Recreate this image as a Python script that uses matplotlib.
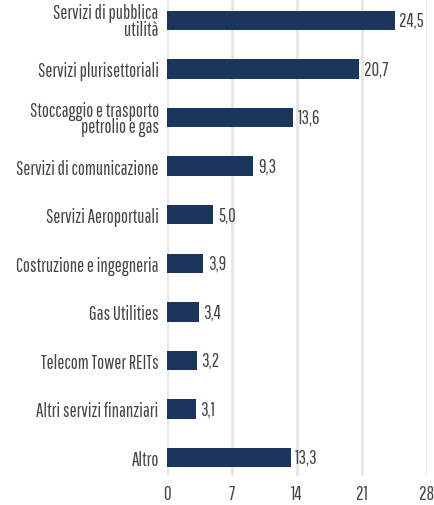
import matplotlib
matplotlib.use("Agg")
import matplotlib.pyplot as plt

categories = ["Servizi di pubblica\nutilità", "Servizi plurisettoriali",
              "Stoccaggio e trasporto\npetrolio e gas", "Servizi di comunicazione",
              "Servizi Aeroportuali", "Costruzione e ingegneria", "Gas Utilities",
              "Telecom Tower REITs", "Altri servizi finanziari", "Altro"]
values = [24.5, 20.7, 13.6, 9.3, 5.0, 3.9, 3.4, 3.2, 3.1, 13.3]
value_labels = ["24,5", "20,7", "13,6", "9,3", "5,0", "3,9", "3,4", "3,2", "3,1", "13,3"]
xticks = [0, 7, 14, 21, 28]

plt.rcParams['font.family'] = ['Pathway Gothic One', 'Barlow Condensed', 'DejaVu Sans']

fig = plt.figure(figsize=(4.34, 5.06), dpi=100)
ax = fig.add_axes([167/434, 1 - 477/506, (427-167)/434, 477/506])

bar_color = "#1b365d"
text_color = "#444444"
fs = 13.5
ypos = list(range(len(categories)))
ax.barh(ypos, values, height=0.4, color=bar_color, zorder=3)
for y, v, lab in zip(ypos, values, value_labels):
    ax.text(v + 0.5, y, lab, va="center", ha="left", fontsize=fs, color=text_color)

ax.set_ylim(9.38, -0.44)
ax.set_xlim(0, 28)
ax.set_xticks(xticks)
ax.set_xticklabels([str(t) for t in xticks], fontsize=fs, color=text_color)
ax.set_yticks(ypos)
ax.set_yticklabels(categories, fontsize=fs, color=text_color, linespacing=0.85)
ax.tick_params(axis="both", length=0, pad=6)
ax.xaxis.grid(True, color="#e6e6e6", linewidth=2, zorder=0)
for s in ax.spines.values():
    s.set_visible(False)

fig.savefig("out.png", dpi=100)
